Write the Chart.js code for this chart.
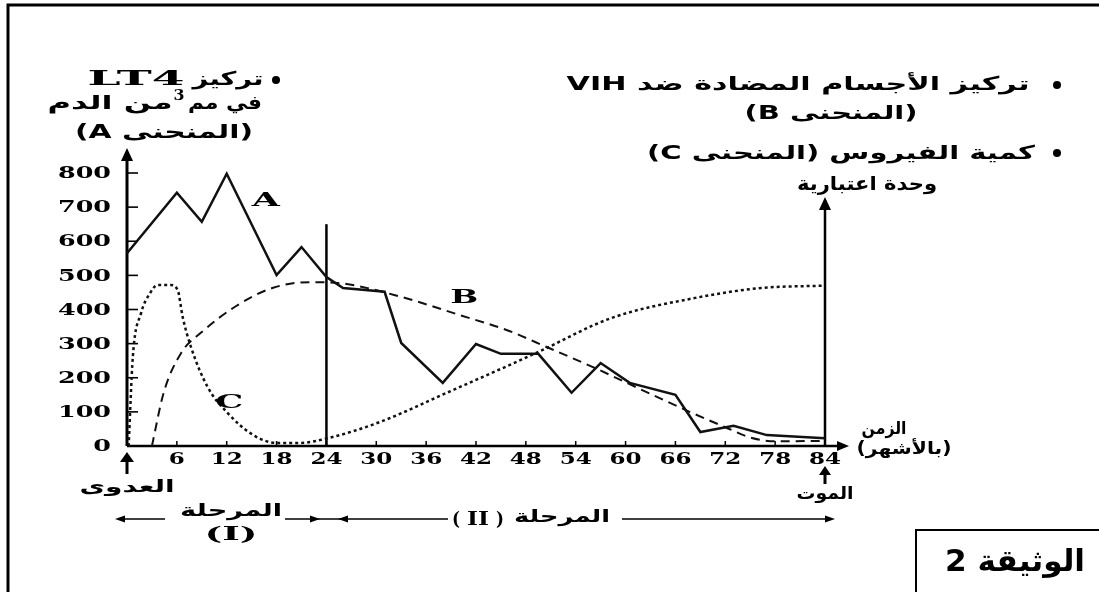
<!DOCTYPE html>
<html lang="ar">
<head>
<meta charset="utf-8">
<title>الوثيقة 2</title>
<script src="https://cdn.jsdelivr.net/npm/chart.js@4.4.1/dist/chart.umd.min.js"></script>
<style>
  html, body { margin: 0; padding: 0; background: #fff; }
  #wrap { position: relative; width: 1099px; height: 592px; overflow: hidden; }
</style>
</head>
<body>
<div id="wrap"><canvas id="doc2" width="1099" height="592"></canvas></div>
<script>
// curve A : LT4 per mm3
const monthsA = [0, 6, 9, 12, 18, 21, 24, 26, 31, 33, 38, 42, 45, 49.5, 53.5, 57, 60.5, 66, 69, 73, 77, 84];
const valuesA = [565, 742, 657, 798, 501, 583, 495, 463, 452, 302, 185, 299, 270, 270, 156, 243, 185, 150, 41, 59, 32, 23];

// curve B : anti-VIH antibodies
const monthsB = [3, 4.4, 6.5, 9, 13, 17.5, 22, 26, 33, 40, 46, 50.5, 56, 62, 68, 72, 75, 78, 84];
const valuesB = [0, 155, 272, 334, 408, 463, 480, 476, 437, 384, 337, 290, 232, 164, 97, 55, 25, 14, 15];

// curve C : virus amount
const monthsC = [0.2, 0.7, 1.7, 2.7, 3.7, 5.2, 6.1, 6.7, 7.7, 9.7, 12.1, 15.2, 18, 20.8, 24.2, 30.4, 38.4, 49.2, 58.3, 68.4, 76.3, 84];
const valuesC = [0, 261, 390, 445, 472, 472, 457, 378, 290, 173, 97, 32, 9, 9, 23, 70, 155, 272, 375, 434, 463, 470];

const xTicks = [6, 12, 18, 24, 30, 36, 42, 48, 54, 60, 66, 72, 78, 84];
const yTicks = [0, 100, 200, 300, 400, 500, 600, 700, 800];

// letters next to the curves (data units)
const curveLabels = [
  { text: 'A', x: 16.7, y: 718 },
  { text: 'B', x: 40.6, y: 434 },
  { text: 'C', x: 12.3, y: 125 }
];

const phaseLineTop = 650;   // vertical line at month 24
const rightAxisTop = 730;   // virus axis at month 84

const serif = '"DejaVu Serif"';
const arabic = '"DejaVu Sans"';

function toXY(xs, ys) {
  return xs.map((x, i) => ({ x: x, y: ys[i] }));
}

// draw text squeezed/stretched to a given width
function fitText(ctx, s, cx, cy, w, font, dir) {
  ctx.save();
  ctx.font = font;
  ctx.direction = dir || 'rtl';
  ctx.textAlign = 'center';
  ctx.textBaseline = 'middle';
  const m = ctx.measureText(s).width;
  ctx.translate(cx, cy);
  ctx.scale(w / m, 1);
  ctx.fillText(s, 0, 0);
  ctx.restore();
}

function stretchText(ctx, s, x, cy, sx, font, align) {
  ctx.save();
  ctx.font = font;
  ctx.direction = 'ltr';
  ctx.textAlign = align;
  ctx.textBaseline = 'middle';
  ctx.translate(x, cy);
  ctx.scale(sx, 1);
  ctx.fillText(s, 0, 0);
  ctx.restore();
}

function arrowHead(ctx, x, y, dx, dy, len, half) {
  const bx = x - dx * len, by = y - dy * len;
  ctx.beginPath();
  ctx.moveTo(x, y);
  ctx.lineTo(bx - dy * half, by + dx * half);
  ctx.lineTo(bx + dy * half, by - dx * half);
  ctx.closePath();
  ctx.fill();
}

function line(ctx, x1, y1, x2, y2, w) {
  ctx.lineWidth = w;
  ctx.beginPath();
  ctx.moveTo(x1, y1);
  ctx.lineTo(x2, y2);
  ctx.stroke();
}

const docPlugin = {
  id: 'doc2',
  beforeDatasetsDraw(chart) {
    const ctx = chart.ctx;
    const xs = chart.scales.x, ys = chart.scales.y;
    const x0 = xs.getPixelForValue(0), y0 = ys.getPixelForValue(0);
    const x84 = xs.getPixelForValue(84);
    ctx.save();
    ctx.strokeStyle = '#000';
    ctx.fillStyle = '#000';
    ctx.lineCap = 'butt';

    // y axis with arrow
    const yTop = ys.getPixelForValue(800) - 25;
    line(ctx, x0, y0, x0, yTop + 6, 3);
    arrowHead(ctx, x0, yTop, 0, -1, 13, 6);
    yTicks.forEach(v => {
      if (v === 0) return;
      const py = ys.getPixelForValue(v);
      line(ctx, x0 - 1, py, x0 + 11, py, 1.6);
    });

    // x axis with arrow
    const xEnd = x84 + 24;
    line(ctx, x0, y0, xEnd - 6, y0, 2.5);
    arrowHead(ctx, xEnd, y0, 1, 0, 12, 5);
    xTicks.forEach(m => {
      const px = xs.getPixelForValue(m);
      line(ctx, px, y0, px, y0 - 5, 1.5);
    });

    // vertical line separating the two phases
    const x24 = xs.getPixelForValue(24);
    line(ctx, x24, y0, x24, ys.getPixelForValue(phaseLineTop), 2.5);

    // right axis (virus) with arrow
    const rTop = ys.getPixelForValue(rightAxisTop);
    line(ctx, x84, y0, x84, rTop + 6, 2.5);
    arrowHead(ctx, x84, rTop, 0, -1, 13, 6);

    // infection arrow (month 0) and death arrow (month 84, under its label)
    const px0 = xs.getPixelForValue(0);
    line(ctx, px0, y0 + 28, px0, y0 + 14, 3);
    arrowHead(ctx, px0, y0 + 6, 0, -1, 10, 7);
    line(ctx, x84, y0 + 38, x84, y0 + 26, 3);
    arrowHead(ctx, x84, y0 + 20, 0, -1, 9, 6);
    ctx.restore();
  },
  afterDraw(chart) {
    const ctx = chart.ctx;
    const xs = chart.scales.x, ys = chart.scales.y;
    const x0 = xs.getPixelForValue(0), y0 = ys.getPixelForValue(0);
    ctx.save();
    ctx.fillStyle = '#000';
    ctx.strokeStyle = '#000';

    // page frame and document box
    ctx.lineWidth = 3;
    ctx.beginPath();
    ctx.moveTo(8, 600);
    ctx.lineTo(8, 5);
    ctx.lineTo(1110, 5);
    ctx.stroke();
    ctx.lineWidth = 2;
    ctx.beginPath();
    ctx.moveTo(916, 600);
    ctx.lineTo(916, 530);
    ctx.lineTo(1110, 530);
    ctx.stroke();
    fitText(ctx, 'الوثيقة 2', 1015, 563, 140, 'bold 30px ' + arabic, 'rtl');

    // tick labels
    const tickFont = 'bold 16px ' + serif;
    ctx.font = tickFont;
    const syY = 53 / ctx.measureText('800').width;
    const syX = 32 / ctx.measureText('12').width;
    yTicks.forEach(v => {
      stretchText(ctx, String(v), x0 - 16, ys.getPixelForValue(v) + 1, syY, tickFont, 'right');
    });
    xTicks.forEach(m => {
      stretchText(ctx, String(m), xs.getPixelForValue(m), y0 + 14, syX, tickFont, 'center');
    });

    // curve letters
    curveLabels.forEach(l => {
      fitText(ctx, l.text, xs.getPixelForValue(l.x), ys.getPixelForValue(l.y), 28, 'bold 19px ' + serif, 'ltr');
    });

    // left legend
    const ar20 = 'bold 19px ' + arabic;
    ctx.beginPath(); ctx.arc(276, 80, 4, 0, Math.PI * 2); ctx.fill();
    fitText(ctx, 'تركيز', 228, 80, 71, ar20);
    fitText(ctx, 'LT4', 136, 80, 97, 'bold 20px ' + serif, 'ltr');
    fitText(ctx, 'في مم', 225, 104, 74, ar20);
    fitText(ctx, '3', 179, 96, 11, 'bold 14px ' + serif, 'ltr');
    fitText(ctx, 'من الدم', 110, 104, 125, ar20);
    fitText(ctx, '(المنحنى A)', 164, 133, 178, ar20);

    // right legend
    ctx.beginPath(); ctx.arc(1057, 85, 4, 0, Math.PI * 2); ctx.fill();
    fitText(ctx, 'تركيز الأجسام المضادة ضد VIH', 798, 85, 463, ar20);
    fitText(ctx, '(المنحنى B)', 831, 114, 173, ar20);
    ctx.beginPath(); ctx.arc(1057, 153, 4, 0, Math.PI * 2); ctx.fill();
    fitText(ctx, 'كمية الفيروس (المنحنى C)', 841, 154, 388, ar20);
    fitText(ctx, 'وحدة اعتبارية', 867, 185, 140, ar20);

    // axis captions
    const ar17 = 'bold 17px ' + arabic;
    fitText(ctx, 'الزمن', 884, 430, 45, ar17);
    fitText(ctx, '(بالأشهر)', 904, 450, 95, ar17);
    fitText(ctx, 'العدوى', 127, 488, 95, ar17);
    fitText(ctx, 'الموت', xs.getPixelForValue(84), 495, 57, ar17);

    // phases
    const py = 519;
    const romanFont = 'bold 19px ' + serif;
    line(ctx, 122, py, 165, py, 1.6);
    arrowHead(ctx, 115, py, -1, 0, 10, 3.5);
    fitText(ctx, 'المرحلة', 231, 512, 102, ar17);
    fitText(ctx, '(I)', 231, 535, 53, romanFont, 'ltr');
    line(ctx, 285, py, 448, py, 1.6);
    arrowHead(ctx, 320, py, 1, 0, 10, 3.5);
    arrowHead(ctx, 338, py, -1, 0, 10, 3.5);
    fitText(ctx, '(', 456, 520, 8, romanFont, 'ltr');
    fitText(ctx, 'II', 478, 520, 22, romanFont, 'ltr');
    fitText(ctx, ')', 500, 520, 8, romanFont, 'ltr');
    fitText(ctx, 'المرحلة', 562, 518, 96, ar17);
    line(ctx, 622, py, 826, py, 1.6);
    arrowHead(ctx, 835, py, 1, 0, 10, 3.5);
    ctx.restore();
  }
};

new Chart(document.getElementById('doc2'), {
  type: 'line',
  data: {
    datasets: [
      {
        label: 'A',
        data: toXY(monthsA, valuesA),
        borderColor: '#111',
        borderWidth: 2.5,
        pointRadius: 0,
        tension: 0
      },
      {
        label: 'B',
        data: toXY(monthsB, valuesB),
        borderColor: '#111',
        borderWidth: 2,
        borderDash: [9, 6],
        pointRadius: 0,
        cubicInterpolationMode: 'monotone'
      },
      {
        label: 'C',
        data: toXY(monthsC, valuesC),
        borderColor: '#111',
        borderWidth: 2.5,
        borderDash: [3, 3],
        pointRadius: 0,
        cubicInterpolationMode: 'monotone'
      }
    ]
  },
  options: {
    responsive: false,
    animation: false,
    devicePixelRatio: 1,
    clip: false,
    layout: { padding: { left: 127, right: 274, top: 173, bottom: 146 } },
    plugins: { legend: { display: false }, tooltip: { enabled: false } },
    scales: {
      x: { type: 'linear', min: 0, max: 84, display: false, ticks: { stepSize: 6 } },
      y: { min: 0, max: 800, display: false, ticks: { stepSize: 100 } }
    }
  },
  plugins: [docPlugin]
});
</script>
</body>
</html>
